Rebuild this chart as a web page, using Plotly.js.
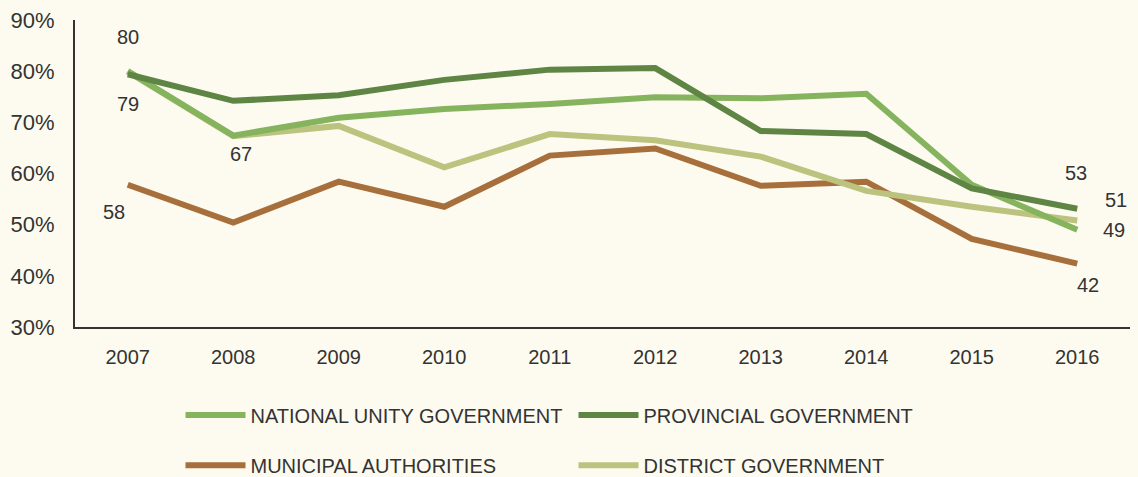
<!DOCTYPE html>
<html>
<head>
<meta charset="utf-8">
<script src="https://cdn.plot.ly/plotly-3.0.1.min.js"></script>
<style>
  html, body { margin: 0; padding: 0; background: #FDFBEF; }
  #chart { width: 1138px; height: 477px; }
</style>
</head>
<body>
<div id="chart"></div>
<script>
const years = ['2007','2008','2009','2010','2011','2012','2013','2014','2015','2016'];
const national   = [80.0, 67.4, 70.9, 72.6, 73.6, 74.9, 74.7, 75.6, 57.8, 49.0];
const provincial = [79.4, 74.2, 75.3, 78.3, 80.3, 80.6, 68.3, 67.7, 57.1, 53.1];
const municipal  = [57.8, 50.4, 58.4, 53.5, 63.5, 64.9, 57.6, 58.4, 47.2, 42.4];
const district   = [79.9, 67.3, 69.3, 61.2, 67.7, 66.5, 63.3, 56.6, 53.5, 50.8];
const seriesNames = ['NATIONAL UNITY GOVERNMENT', 'PROVINCIAL GOVERNMENT', 'MUNICIPAL AUTHORITIES', 'DISTRICT GOVERNMENT'];
const yTickVals = [30, 40, 50, 60, 70, 80, 90];
const yTickText = ['30%', '40%', '50%', '60%', '70%', '80%', '90%'];

const colors = ['#86B35D', '#5E8544', '#A76F3B', '#BBC37F'];
const seriesData = [national, provincial, municipal, district];
const legends = ['legend', 'legend', 'legend2', 'legend2'];
const drawOrder = [2, 3, 0, 1]; // municipal, district, national, provincial (top)
const FONT = 'Liberation Sans, Arial, sans-serif';

const traces = drawOrder.map(i => ({
  type: 'scatter', mode: 'lines', x: years, y: seriesData[i], name: seriesNames[i],
  line: { color: colors[i], width: 6 },
  legend: legends[i], hoverinfo: 'skip'
}));

function lbl(series, idx, xs, ys) {
  return {
    x: idx, y: series[idx], xref: 'x', yref: 'y',
    text: String(Math.round(series[idx])), showarrow: false,
    xanchor: 'center', yanchor: 'middle',
    xshift: xs, yshift: ys,
    font: { family: FONT, size: 20, color: '#333333' }
  };
}

const annotations = [
  lbl(national, 0, 0, 34),
  lbl(provincial, 0, 0, -30),
  lbl(national, 1, 8, -18),
  lbl(municipal, 0, -14, -27),
  lbl(provincial, 9, -1, 36),
  lbl(district, 9, 39, 21),
  lbl(national, 9, 37, 0),
  lbl(municipal, 9, 11, -21)
];

const legendBase = {
  orientation: 'h', xref: 'paper', yref: 'paper', xanchor: 'left', yanchor: 'middle',
  x: 0.1, entrywidth: 318, entrywidthmode: 'pixels', itemwidth: 60,
  bgcolor: 'rgba(0,0,0,0)',
  font: { family: FONT, size: 20, color: '#333333' },
  itemclick: false, itemdoubleclick: false
};

const layout = {
  width: 1138, height: 477,
  margin: { l: 75, r: 8, t: 19.5, b: 149.5, pad: 0, autoexpand: false },
  paper_bgcolor: '#FDFBEF', plot_bgcolor: '#FDFBEF',
  showlegend: true,
  legend: Object.assign({}, legendBase, { y: -0.287 }),
  legend2: Object.assign({}, legendBase, { y: -0.45 }),
  xaxis: {
    type: 'category', range: [-0.5, 9.5], showgrid: false, zeroline: false,
    showline: true, linecolor: '#333333', linewidth: 2,
    ticks: '', ticklabelstandoff: 11,
    tickfont: { family: FONT, size: 20, color: '#333333' }
  },
  yaxis: {
    range: [30, 90], tickvals: yTickVals, ticktext: yTickText,
    showgrid: false, zeroline: false,
    showline: true, linecolor: '#333333', linewidth: 2,
    ticks: '', ticklabelstandoff: 14,
    tickfont: { family: FONT, size: 22, color: '#333333' }
  },
  annotations: annotations
};

Plotly.newPlot('chart', traces, layout, { displayModeBar: false, staticPlot: true })
  .catch(e => { const d = document.createElement('pre'); d.textContent = String(e); document.body.appendChild(d); });
</script>
</body>
</html>
